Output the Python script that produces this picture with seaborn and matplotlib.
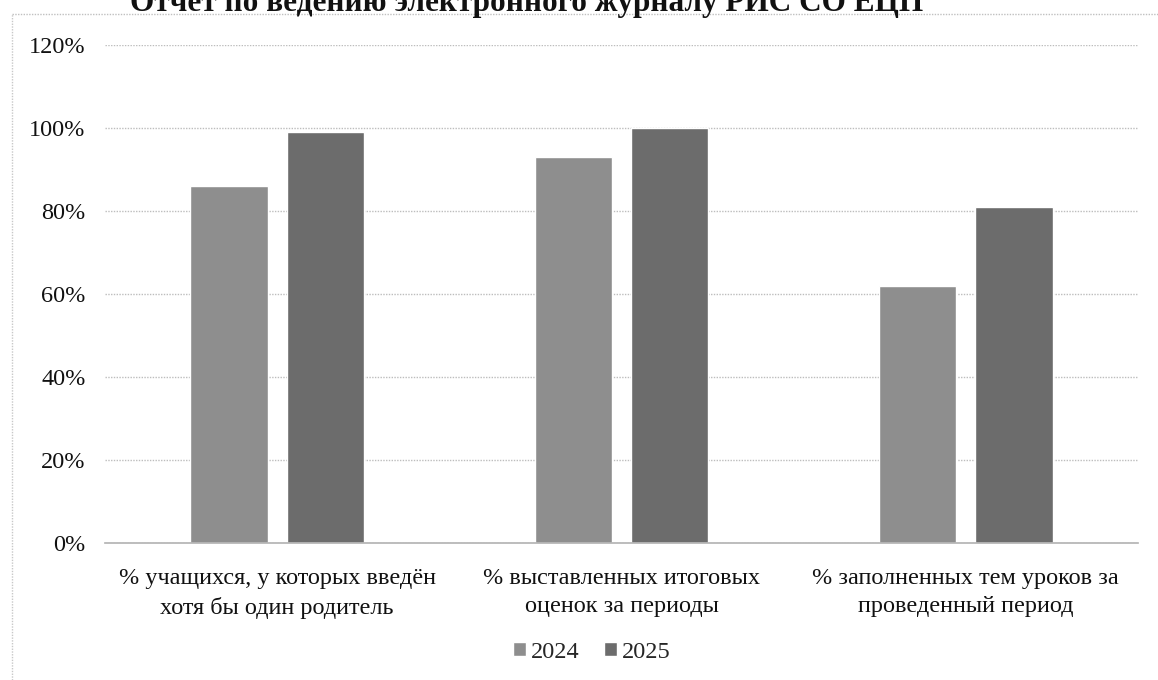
# Отчет по ведению электронного журнала — сравнение 2024 и 2025

import pandas as pd
import matplotlib
matplotlib.use("Agg")
import matplotlib.pyplot as plt
from matplotlib.lines import Line2D
from matplotlib.ticker import PercentFormatter
import seaborn as sns

categories = [
    "% учащихся, у которых введён\nхотя бы один родитель",
    "% выставленных итоговых\nоценок за периоды",
    "% заполненных тем уроков за\nпроведенный период",
]
years = ["2024", "2025"]
values_2024 = [86, 93, 62]
values_2025 = [99, 100, 81]
y_ticks = [0, 20, 40, 60, 80, 100, 120]
title = "Отчет по ведению электронного журналу РИС СО ЕЦП"

df = pd.DataFrame({
    "Category": categories * 2,
    "Year": [years[0]] * 3 + [years[1]] * 3,
    "Value": values_2024 + values_2025,
})

sns.set_theme(style="white")
plt.rcParams["font.family"] = ["Liberation Serif", "DejaVu Serif"]

fig = plt.figure(figsize=(11.58, 6.8), dpi=100)
ax = fig.add_axes([0.0907, 0.2015, 0.892, 0.7323])

sns.barplot(data=df, x="Category", y="Value", hue="Year",
            palette=["#8e8e8e", "#6c6c6c"], width=0.56, gap=0.2,
            saturation=1, ax=ax)

ax.set_ylim(0, 120)
ax.set_yticks(y_ticks)
ax.yaxis.set_major_formatter(PercentFormatter(decimals=0))
ax.set_xlabel("")
ax.set_ylabel("")
ax.tick_params(axis="y", labelsize=17.5, length=0, pad=14, colors="#111111")
ax.tick_params(axis="x", labelsize=17.5, length=0, pad=18, colors="#111111")
for lbl in ax.get_xticklabels():
    lbl.set_linespacing(1.45)
ax.grid(axis="y", color="#bdbdbd", linestyle=(0, (1, 1)), linewidth=1)
ax.set_axisbelow(True)
for side in ["top", "right", "left"]:
    ax.spines[side].set_visible(False)
ax.spines["bottom"].set_color("#b5b5b5")
ax.spines["bottom"].set_linestyle((0, (1, 1)))

ax.legend(loc="center", bbox_to_anchor=(0.511, 0.041), bbox_transform=fig.transFigure,
          ncol=2, frameon=False, fontsize=17.5, handlelength=0.55, handleheight=0.55,
          handletextpad=0.2, columnspacing=1.0)

# title cut by the top of the scan
fig.text(0.112, 1 - 11 / 680, title, fontsize=22.5, fontweight="bold",
         ha="left", va="baseline", color="#111111")

# dotted frame of the chart area
fig.add_artist(Line2D([12 / 1158, 1.0], [1 - 14 / 680, 1 - 14 / 680],
                      transform=fig.transFigure, color="#c0c0c0",
                      linestyle=(0, (1, 1)), linewidth=1))
fig.add_artist(Line2D([12 / 1158, 12 / 1158], [0.0, 1 - 14 / 680],
                      transform=fig.transFigure, color="#c8c8c8",
                      linestyle=(0, (1, 1)), linewidth=1))

fig.savefig("out.png", dpi=100, facecolor="white")
